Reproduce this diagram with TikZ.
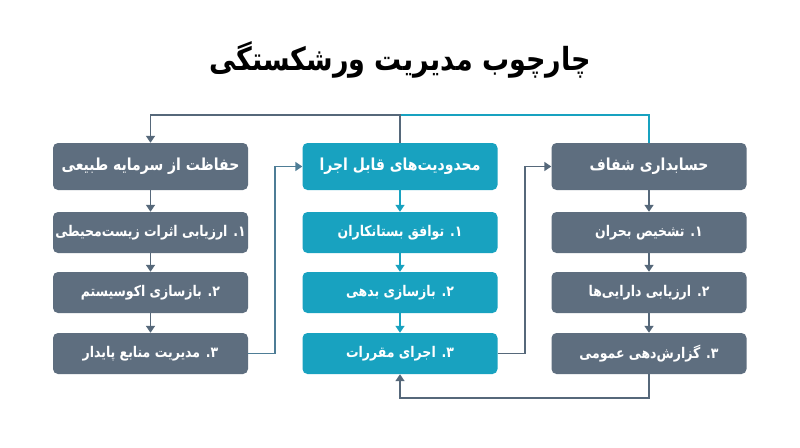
\documentclass[tikz,border=0pt]{standalone}
\usepackage{fontspec}
\usepackage{graphicx}
\setmainfont{DejaVu Sans}
\newfontfamily\fa[Script=Arabic]{DejaVu Sans}
\TeXXeTstate=1
\usetikzlibrary{arrows.meta}
\definecolor{slate}{HTML}{5E6E7F}
\definecolor{tealc}{HTML}{18A2C0}
\definecolor{lineg}{HTML}{56687A}
\definecolor{lineb}{HTML}{4E7D96}
\newcommand{\rtl}[1]{\scalebox{1}[1.18]{\beginR #1\endR}}
\begin{document}
\begin{tikzpicture}[x=1pt,y=-1pt,
 box/.style={rectangle, rounded corners=5pt, draw=none, text=white, font=\fa\bfseries\fontsize{12.5}{15}\selectfont, minimum width=195pt, minimum height=41pt, inner sep=0pt},
 hdr/.style={box, minimum height=47pt, font=\fa\bfseries\fontsize{14}{17}\selectfont},
 gbox/.style={fill=slate},
 tbox/.style={fill=tealc},
 conn/.style={line width=1.6pt, -{Triangle[length=7pt,width=9pt]}},
 plain/.style={line width=1.6pt},
]
\useasboundingbox (0,0) rectangle (800,447);
\fill[white] (0,0) rectangle (800,447);

\node[font=\fa\bfseries\fontsize{27}{32}\selectfont, text=black] (title) at (400,60) {\rtl{چارچوب مدیریت ورشکستگی}};

% left column
\node[hdr,gbox] (lh) at (150.5,166.5) {\rtl{حفاظت از سرمایه طبیعی}};
\node[box,gbox] (l1) at (150.5,232.5) {\rtl{۱. ارزیابی اثرات زیست‌محیطی}};
\node[box,gbox] (l2) at (150.5,292.5) {\rtl{۲. بازسازی اکوسیستم}};
\node[box,gbox] (l3) at (150.5,353.5) {\rtl{۳. مدیریت منابع پایدار}};

% center column
\node[hdr,tbox] (ch) at (400,166.5) {\rtl{محدودیت‌های قابل اجرا}};
\node[box,tbox] (c1) at (400,232.5) {\rtl{۱. توافق بستانکاران}};
\node[box,tbox] (c2) at (400,292.5) {\rtl{۲. بازسازی بدهی}};
\node[box,tbox] (c3) at (400,353.5) {\rtl{۳. اجرای مقررات}};

% right column
\node[hdr,gbox] (rh) at (649,166.5) {\rtl{حسابداری شفاف}};
\node[box,gbox] (r1) at (649,232.5) {\rtl{۱. تشخیص بحران}};
\node[box,gbox] (r2) at (649,292.5) {\rtl{۲. ارزیابی دارایی‌ها}};
\node[box,gbox] (r3) at (649,353.5) {\rtl{۳. گزارش‌دهی عمومی}};

% vertical arrows
\draw[conn,lineg] (lh) -- (l1);
\draw[conn,lineg] (l1) -- (l2);
\draw[conn,lineg] (l2) -- (l3);
\draw[conn,tealc] (ch) -- (c1);
\draw[conn,tealc] (c1) -- (c2);
\draw[conn,tealc] (c2) -- (c3);
\draw[conn,lineg] (rh) -- (r1);
\draw[conn,lineg] (r1) -- (r2);
\draw[conn,lineg] (r2) -- (r3);

% top connectors
\coordinate (topc) at (400,115);
\draw[plain,tealc] (rh.north) |- (topc);
\draw[conn,lineg] (ch.north) -- (topc) -| (lh.north);

% cross connectors
\draw[conn,lineb] (l3.east) -- ++(27,0) |- (ch.west);
\draw[conn,lineg] (c3.east) -- ++(27,0) |- (rh.west);
\draw[conn,lineg] (r3.south) -- ++(0,23.5) -| (c3.south);
\end{tikzpicture}
\end{document}
